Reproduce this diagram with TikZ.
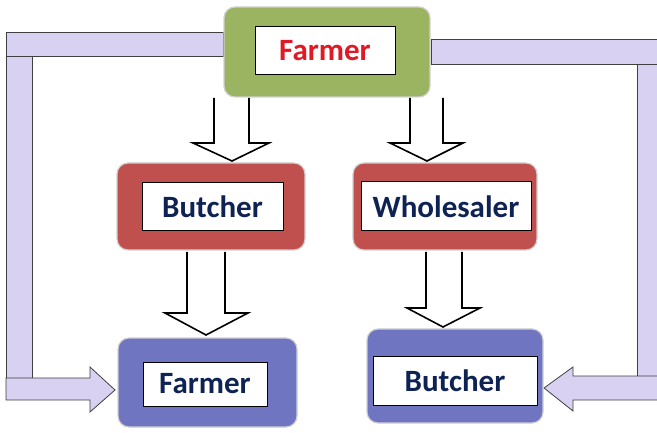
\documentclass[tikz,border=0pt]{standalone}
\usepackage{fontspec}
\setmainfont{Carlito}
\definecolor{gfill}{HTML}{9BB462}
\definecolor{rfill}{HTML}{C0504D}
\definecolor{bfill}{HTML}{6F75C1}
\definecolor{lav}{HTML}{D9D1F1}
\definecolor{navy}{HTML}{0E2354}
\definecolor{redtxt}{HTML}{E01A24}
\begin{document}
\begin{tikzpicture}[x=1pt,y=-1pt,
  outer/.style={rounded corners=11pt, minimum width=#1, inner sep=0pt},
  gbox/.style={outer=#1, fill=gfill},
  rbox/.style={outer=#1, fill=rfill},
  bbox/.style={outer=#1, fill=bfill},
  shadowbox/.style={draw=black!18, line width=1.2pt},
  label/.style={draw=black, fill=white, line width=1pt, inner sep=0pt,
    font=\fontsize{31}{32}\selectfont\bfseries, text=navy},
  lavshape/.style={fill=lav, draw=black!75, line width=0.8pt},
  blockarrow/.style={fill=white, draw=black, line width=1.6pt, line join=miter}
]
\useasboundingbox (0,0) rectangle (657,433);
\fill[white] (0,0) rectangle (657,433);

% lavender feedback bars (left)
\draw[lavshape] (6,32) rectangle (223,56);
\draw[lavshape] (6,56) rectangle (32,378);
\draw[lavshape] (6,378) -- (90,378) -- (90,367) -- (115,390) -- (90,412) -- (90,400) -- (6,400) -- cycle;
% lavender feedback bars (right)
\draw[lavshape] (431,39) rectangle (662,64);
\draw[lavshape] (637,64) rectangle (662,376);
\draw[lavshape] (662,376) -- (573,376) -- (573,367) -- (544,388) -- (573,411) -- (573,400) -- (662,400) -- cycle;

% outer boxes with light shadow
\node[gbox=206pt, minimum height=90pt, shadowbox, fill=gfill] (farmerTop) at (327,52) {};
\node[rbox=188pt, minimum height=87pt, shadowbox, fill=rfill] (butcherMid) at (211,206.5) {};
\node[rbox=184pt, minimum height=87pt, shadowbox, fill=rfill] (wholesaler) at (445,206.5) {};
\node[bbox=179pt, minimum height=89pt, shadowbox, fill=bfill] (farmerBot) at (207.5,382.5) {};
\node[bbox=176pt, minimum height=94pt, shadowbox, fill=bfill] (butcherBot) at (455,376) {};

% inner labels
\node[label, text=redtxt, minimum width=140pt, minimum height=48pt] (farmerTopL) at (325,51) {Farmer};
\node[label, minimum width=141pt, minimum height=48pt] (butcherMidL) at (212.5,207) {Butcher};
\node[label, minimum width=170pt, minimum height=49pt] (wholesalerL) at (446,206.5) {Wholesaler};
\node[label, minimum width=124pt, minimum height=44pt] (farmerBotL) at (205,384) {Farmer};
\node[label, minimum width=164pt, minimum height=49pt] (butcherBotL) at (455,380.5) {Butcher};

% block arrows down
\draw[blockarrow] (214,98) -- (214,143) -- (193,143) -- (232,161) -- (269,143) -- (249,143) -- (249,98);
\draw[blockarrow] (410,98) -- (410,143) -- (390,143) -- (427,161) -- (463,143) -- (443,143) -- (443,98);
\draw[blockarrow] (187,252) -- (187,313) -- (165,313) -- (206,335) -- (248,313) -- (225,313) -- (225,252);
\draw[blockarrow] (426,252) -- (426,308) -- (407,308) -- (443,327) -- (480,308) -- (462,308) -- (462,252);
\end{tikzpicture}
\end{document}
